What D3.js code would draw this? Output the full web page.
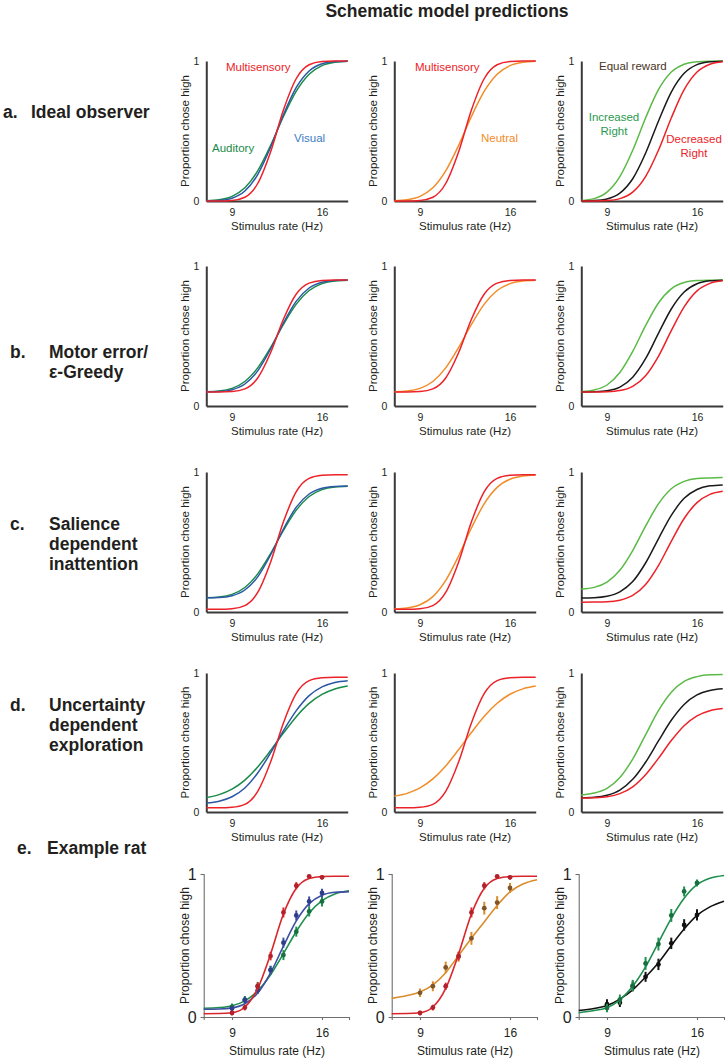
<!DOCTYPE html>
<html>
<head>
<meta charset="utf-8">
<script src="https://d3js.org/d3.v7.min.js"></script>
<style>
  body { margin: 0; background: #fff; }
  svg text { font-family: "Liberation Sans", Arial, Helvetica, sans-serif; fill: #231f20; }
  .rowlabel { font-weight: bold; font-size: 17.5px; }
  .title { font-weight: bold; font-size: 17.5px; }
  .axis .domain { stroke: #3a3a3a; stroke-width: 2px; }
  .axis.rat .domain, .axis.rat line { stroke: #6f6f6f; stroke-width: 1.1px; }
</style>
</head>
<body>
<svg id="fig" width="727" height="1062"></svg>
<script>

const rates = [7, 8, 9, 10, 11, 12, 13, 14, 15, 16, 17, 18];
const ratRates = [6.8, 8, 9, 10, 11, 12, 13, 14, 15, 16, 17, 18.1];
const dataRates = [9, 10, 11, 12, 13, 14, 15, 16];
const tickRates = [9, 16];

// a. ideal observer
const idealMulti = [0, 0, 0.004, 0.027, 0.125, 0.35, 0.65, 0.875, 0.973, 0.996, 1, 1];
const idealVisual = [0.001, 0.004, 0.02, 0.071, 0.189, 0.384, 0.616, 0.811, 0.929, 0.98, 0.996, 0.999];
const idealAuditory = [0.002, 0.009, 0.033, 0.094, 0.215, 0.396, 0.604, 0.785, 0.906, 0.967, 0.991, 0.998];
const idealNeutral = [0.002, 0.009, 0.033, 0.094, 0.215, 0.396, 0.604, 0.785, 0.906, 0.967, 0.991, 0.998];
const idealIncreased = [0.003, 0.017, 0.063, 0.174, 0.362, 0.593, 0.795, 0.921, 0.977, 0.995, 0.999, 1];
const idealEqual = [0, 0.003, 0.015, 0.056, 0.159, 0.341, 0.57, 0.778, 0.912, 0.974, 0.994, 0.999];
const idealDecreased = [0, 0, 0.003, 0.017, 0.063, 0.174, 0.362, 0.593, 0.795, 0.921, 0.977, 0.995];

// b. motor error / e-greedy
const motorMulti = [0.1, 0.1, 0.103, 0.122, 0.2, 0.38, 0.62, 0.8, 0.878, 0.897, 0.9, 0.9];
const motorVisual = [0.101, 0.103, 0.116, 0.157, 0.251, 0.407, 0.593, 0.749, 0.843, 0.884, 0.897, 0.9];
const motorAuditory = [0.102, 0.107, 0.126, 0.175, 0.272, 0.417, 0.583, 0.728, 0.825, 0.874, 0.893, 0.898];
const motorNeutral = [0.102, 0.107, 0.126, 0.175, 0.272, 0.417, 0.583, 0.728, 0.825, 0.874, 0.893, 0.898];
const motorIncreased = [0.102, 0.114, 0.15, 0.239, 0.39, 0.574, 0.736, 0.837, 0.882, 0.896, 0.899, 0.9];
const motorEqual = [0.1, 0.102, 0.109, 0.135, 0.206, 0.338, 0.519, 0.693, 0.814, 0.873, 0.894, 0.899];
const motorDecreased = [0.1, 0.1, 0.102, 0.11, 0.14, 0.216, 0.355, 0.538, 0.708, 0.822, 0.876, 0.894];

// c. salience dependent inattention
const salienceMulti = [0.02, 0.02, 0.024, 0.046, 0.14, 0.356, 0.644, 0.86, 0.954, 0.976, 0.98, 0.98];
const salienceVisual = [0.101, 0.103, 0.116, 0.157, 0.251, 0.407, 0.593, 0.749, 0.843, 0.884, 0.897, 0.9];
const salienceAuditory = [0.102, 0.107, 0.126, 0.175, 0.272, 0.417, 0.583, 0.728, 0.825, 0.874, 0.893, 0.898];
const salienceNeutral = [0.022, 0.029, 0.052, 0.11, 0.226, 0.4, 0.6, 0.774, 0.89, 0.948, 0.971, 0.978];
const salienceIncreased = [0.164, 0.176, 0.214, 0.298, 0.439, 0.613, 0.772, 0.88, 0.933, 0.954, 0.958, 0.96];
const salienceEqual = [0.1, 0.102, 0.112, 0.144, 0.217, 0.35, 0.523, 0.69, 0.812, 0.875, 0.901, 0.908];
const salienceDecreased = [0.07, 0.071, 0.073, 0.084, 0.118, 0.197, 0.332, 0.505, 0.668, 0.781, 0.84, 0.862];

// d. uncertainty dependent exploration
const explMulti = [0.03, 0.03, 0.034, 0.055, 0.148, 0.359, 0.641, 0.853, 0.945, 0.966, 0.97, 0.97];
const explVisual = [0.065, 0.078, 0.11, 0.173, 0.281, 0.425, 0.585, 0.729, 0.837, 0.9, 0.932, 0.945];
const explAuditory = [0.104, 0.125, 0.164, 0.229, 0.324, 0.442, 0.568, 0.686, 0.781, 0.846, 0.885, 0.906];
const explNeutral = [0.114, 0.134, 0.173, 0.238, 0.331, 0.448, 0.572, 0.689, 0.782, 0.847, 0.886, 0.906];
const explIncreased = [0.123, 0.136, 0.17, 0.248, 0.381, 0.555, 0.729, 0.862, 0.94, 0.974, 0.987, 0.989];
const explEqual = [0.102, 0.106, 0.121, 0.158, 0.235, 0.358, 0.511, 0.66, 0.774, 0.842, 0.874, 0.886];
const explDecreased = [0.101, 0.103, 0.11, 0.132, 0.181, 0.268, 0.386, 0.514, 0.621, 0.692, 0.729, 0.744];

// e. example rat: fits (on ratRates) and data (on dataRates)
const ratMultiFit = [0.023, 0.024, 0.03, 0.07, 0.2, 0.44, 0.72, 0.9, 0.968, 0.982, 0.984, 0.984];
const ratVisualFit = [0.054, 0.056, 0.064, 0.093, 0.168, 0.309, 0.495, 0.672, 0.793, 0.852, 0.872, 0.877];
const ratAuditoryFit = [0.061, 0.066, 0.079, 0.113, 0.182, 0.296, 0.443, 0.598, 0.727, 0.814, 0.861, 0.882];
const ratNeutralFit = [0.13, 0.15, 0.175, 0.225, 0.31, 0.43, 0.55, 0.665, 0.78, 0.875, 0.93, 0.96];
const ratIncreasedFit = [0.03, 0.045, 0.065, 0.12, 0.215, 0.35, 0.52, 0.69, 0.83, 0.925, 0.97, 0.99];
const ratEqualFit = [0.045, 0.06, 0.08, 0.125, 0.19, 0.28, 0.38, 0.5, 0.615, 0.71, 0.77, 0.81];

const ratMulti = [0.028, 0.066, 0.215, 0.426, 0.731, 0.918, 0.984, 0.977];
const ratVisual = [0.059, 0.117, 0.187, 0.328, 0.52, 0.71, 0.808, 0.867];
const ratAuditory = [0.07, 0.122, 0.215, 0.328, 0.433, 0.597, 0.738, 0.808];
const ratNeutral = [0.169, 0.215, 0.347, 0.422, 0.55, 0.761, 0.8, 0.902];
const ratIncreased = [0.063, 0.122, 0.22, 0.375, 0.51, 0.71, 0.878, 0.937];
const ratEqual = [0.089, 0.1, 0.215, 0.281, 0.368, 0.515, 0.644, 0.714];

const ratMultiErr = [0.015, 0.02, 0.025, 0.03, 0.035, 0.025, 0.01, 0.015];
const ratVisualErr = [0.02, 0.025, 0.025, 0.03, 0.035, 0.035, 0.035, 0.03];
const ratAuditoryErr = [0.025, 0.025, 0.03, 0.03, 0.035, 0.035, 0.035, 0.035];
const ratNeutralErr = [0.03, 0.035, 0.04, 0.035, 0.045, 0.045, 0.045, 0.035];
const ratIncreasedErr = [0.03, 0.035, 0.04, 0.045, 0.045, 0.045, 0.035, 0.025];
const ratEqualErr = [0.035, 0.03, 0.035, 0.035, 0.04, 0.04, 0.04, 0.04];

const rowLabels = [
  ["a.", ["Ideal observer"]],
  ["b.", ["Motor error/", "\u03b5-Greedy"]],
  ["c.", ["Salience", "dependent", "inattention"]],
  ["d.", ["Uncertainty", "dependent", "exploration"]],
  ["e.", ["Example rat"]]
];

// ---------- layout ----------
const svg = d3.select("#fig");
const rowTop = [61, 266, 472, 673, 874];
const rowBottom = [201, 406, 612, 812, 1017];
const col9 = [232, 420, 607];
const pxPerHz = 90 / 7;

const col = {
  multi: "#ec2229", visual: "#2b57a5", auditory: "#1a8a4a", neutral: "#f28c28",
  increased: "#5bba47", equal: "#1a1a1a", decreased: "#ec2229"
};
const ratCol = {
  multi: ["#d8262c", "#b3212a"], visual: ["#3c4fa2", "#2e3d8c"], auditory: ["#1f8f50", "#17703e"],
  neutral: ["#d98c2c", "#7e5428"], increased: ["#1f8f50", "#17703e"], equal: ["#111", "#111"]
};

svg.append("text").attr("class", "title")
  .attr("x", 447).attr("y", 17).attr("text-anchor", "middle")
  .text("Schematic model predictions");

// row labels
const labelBase = [118, 358, 530, 711, 854];
rowLabels.forEach(([letter, lines], r) => {
  const g = svg.append("g");
  const lx = r === 0 ? 3 : (r === 4 ? 17 : 10);
  const tx = r === 0 ? 31 : (r === 4 ? 47 : 49);
  g.append("text").attr("class", "rowlabel").attr("x", lx).attr("y", labelBase[r]).text(letter);
  lines.forEach((t, i) => {
    g.append("text").attr("class", "rowlabel").attr("x", tx).attr("y", labelBase[r] + i * 20).text(t);
  });
});

const schematic = [
  [[idealAuditory, idealVisual, idealMulti], [idealNeutral, idealMulti], [idealIncreased, idealEqual, idealDecreased]],
  [[motorAuditory, motorVisual, motorMulti], [motorNeutral, motorMulti], [motorIncreased, motorEqual, motorDecreased]],
  [[salienceAuditory, salienceVisual, salienceMulti], [salienceNeutral, salienceMulti], [salienceIncreased, salienceEqual, salienceDecreased]],
  [[explAuditory, explVisual, explMulti], [explNeutral, explMulti], [explIncreased, explEqual, explDecreased]]
];
const colColors = [
  [col.auditory, col.visual, col.multi],
  [col.neutral, col.multi],
  [col.increased, col.equal, col.decreased]
];

function panel(r, c) {
  const rat = r === 4;
  const lo = rat ? 6.8 : 7, hi = rat ? 18.1 : 18;
  const x = d3.scaleLinear().domain([lo, hi])
    .range([col9[c] + (lo - 9) * pxPerHz, col9[c] + (hi - 9) * pxPerHz]);
  const y = d3.scaleLinear().domain([0, 1]).range([rowBottom[r], rowTop[r]]);
  const g = svg.append("g");

  const xAxis = d3.axisBottom(x).tickValues(tickRates).tickSizeOuter(0)
    .tickSize(rat ? 3 : 0).tickPadding(rat ? 8.5 : 8);
  const gx = g.append("g").attr("class", "axis" + (rat ? " rat" : ""))
    .attr("transform", `translate(0,${rowBottom[r]})`).call(xAxis);
  gx.selectAll("text").style("font-size", rat ? "12px" : "10.5px");

  const yAxis = d3.axisLeft(y).tickValues([0, 1]).tickFormat(d3.format("d")).tickSizeOuter(0)
    .tickSize(rat ? 3 : 0).tickPadding(rat ? 4 : 7);
  const gy = g.append("g").attr("class", "axis" + (rat ? " rat" : ""))
    .attr("transform", `translate(${x(lo)},0)`).call(yAxis);
  gy.selectAll("text").style("font-size", rat ? "16px" : "10.5px").attr("dy", "0.35em");

  g.selectAll(".axis text").attr("fill", "#231f20").attr("font-family", null);

  g.append("text").attr("text-anchor", "middle")
    .attr("x", x(12.5)).attr("y", rowBottom[r] + (rat ? 38 : 29))
    .style("font-size", rat ? "12px" : "11.5px")
    .text("Stimulus rate (Hz)");
  g.append("text").attr("text-anchor", "middle")
    .attr("transform", `translate(${x(lo) - (rat ? 15 : 17)},${(rowTop[r] + rowBottom[r]) / 2}) rotate(-90)`)
    .style("font-size", rat ? "12px" : "11.5px")
    .text("Proportion chose high");

  return { g, x, y };
}

const line = (x, y, xs) => d3.line()
  .x((d, i) => x(xs[i])).y(d => y(d))
  .curve(d3.curveMonotoneX);

for (let r = 0; r < 4; r++) {
  for (let c = 0; c < 3; c++) {
    const { g, x, y } = panel(r, c);
    schematic[r][c].forEach((vals, k) => {
      g.append("path").attr("d", line(x, y, rates)(vals))
        .attr("fill", "none").attr("stroke", colColors[c][k]).attr("stroke-width", 1.5);
    });
  }
}

// legend text in row a
const notes = [
  [0, 226, 71, "Multisensory", col.multi, "start"],
  [0, 212, 152, "Auditory", col.auditory, "start"],
  [0, 294, 142, "Visual", "#3b7cc4", "start"],
  [1, 415, 71, "Multisensory", col.multi, "start"],
  [1, 481, 142, "Neutral", col.neutral, "start"],
  [2, 599, 70, "Equal reward", "#4a3426", "start"],
  [2, 614, 121, "Increased", "#2a9a4e", "middle"],
  [2, 614, 135, "Right", "#2a9a4e", "middle"],
  [2, 694, 143, "Decreased", col.multi, "middle"],
  [2, 694, 157, "Right", col.multi, "middle"]
];
notes.forEach(([c, tx, ty, t, fill, anchor]) => {
  svg.append("text").attr("x", tx).attr("y", ty).attr("text-anchor", anchor)
    .style("font-size", "11.5px").style("fill", fill).text(t);
});

// row e: example rat
const ratPanels = [
  [[ratAuditoryFit, ratAuditory, ratAuditoryErr, "auditory"], [ratVisualFit, ratVisual, ratVisualErr, "visual"], [ratMultiFit, ratMulti, ratMultiErr, "multi"]],
  [[ratNeutralFit, ratNeutral, ratNeutralErr, "neutral"], [ratMultiFit, ratMulti, ratMultiErr, "multi"]],
  [[ratEqualFit, ratEqual, ratEqualErr, "equal"], [ratIncreasedFit, ratIncreased, ratIncreasedErr, "increased"]]
];
ratPanels.forEach((series, c) => {
  const { g, x, y } = panel(4, c);
  series.forEach(([fit, pts, err, key]) => {
    const [lc, pc] = ratCol[key];
    g.append("path").attr("d", line(x, y, ratRates)(fit))
      .attr("fill", "none").attr("stroke", lc).attr("stroke-width", 1.6);
    const s = g.append("g");
    s.selectAll("line").data(pts).join("line")
      .attr("x1", (d, i) => x(dataRates[i])).attr("x2", (d, i) => x(dataRates[i]))
      .attr("y1", (d, i) => y(d - err[i])).attr("y2", (d, i) => y(d + err[i]))
      .attr("stroke", lc).attr("stroke-width", 2);
    s.selectAll("circle").data(pts).join("circle")
      .attr("cx", (d, i) => x(dataRates[i])).attr("cy", d => y(d))
      .attr("r", 2.4).attr("fill", pc);
  });
});

</script>
</body>
</html>
